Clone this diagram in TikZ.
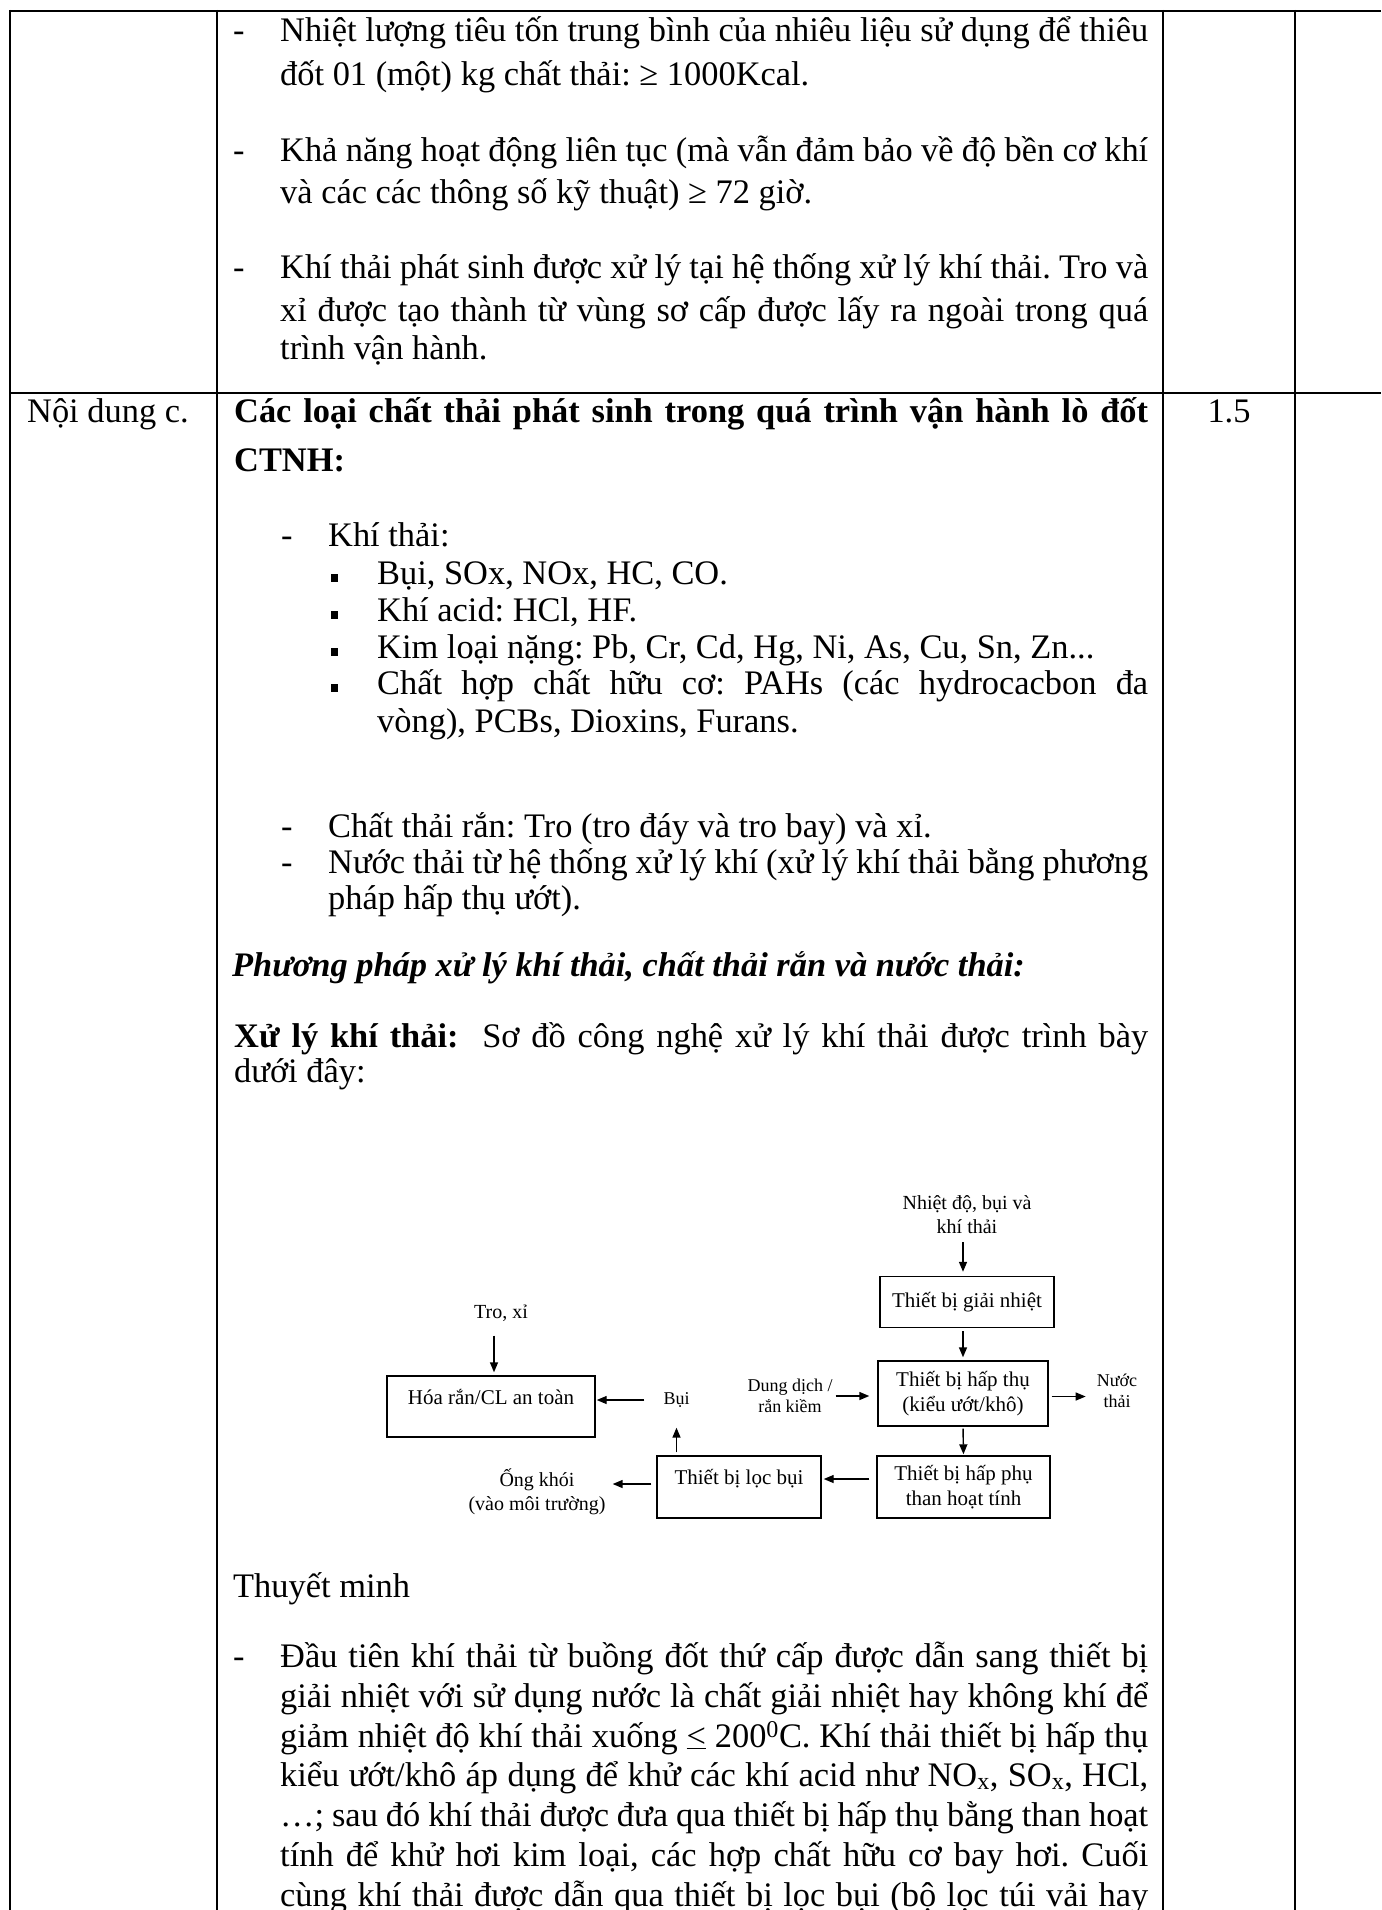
\documentclass[tikz,border=0pt]{standalone}
\usepackage{fontspec}
\setmainfont{Liberation Serif}
\usetikzlibrary{arrows.meta}
\newcommand\jl[2]{\makebox[#1][s]{#2}}
\tikzset{
  tline/.style={line width=2.3pt},
  txt/.style={anchor=base west, inner sep=0pt, font=\fontsize{34.4}{40}\selectfont},
  box/.style={draw, line width=1.4pt, inner sep=0pt, align=center, font=\fontsize{21}{25}\selectfont},
  lbl/.style={inner sep=0pt, align=center, font=\fontsize{20}{24}\selectfont},
  slbl/.style={inner sep=0pt, align=center, font=\fontsize{18}{21}\selectfont},
  arr/.style={-{Triangle[length=10pt,width=8pt]}, line width=1.4pt},
  sq/.style={fill=black, draw=none, inner sep=0pt, minimum width=7pt, minimum height=8pt},
}
\begin{document}
\frenchspacing
\begin{tikzpicture}[x=1pt,y=-1pt]
\useasboundingbox (0,0) rectangle (1381,1910);
% table grid
\draw[tline] (10,11) -- (1381,11);
\draw[tline] (10,393) -- (1381,393);
\draw[tline] (10,10) -- (10,1912);
\draw[tline] (217,10) -- (217,1912);
\draw[tline] (1163,10) -- (1163,1912);
\draw[tline] (1295,10) -- (1295,1912);

% row 1
\node[txt] (a1) at (233,42) {-};
\node[txt] (a1t) at (280,42) {\jl{868pt}{Nhiệt lượng tiêu tốn trung bình của nhiêu liệu sử dụng để thiêu}};
\node[txt] (a2t) at (280,86) {đốt 01 (một) kg chất thải: ≥ 1000Kcal.};
\node[txt] (b1) at (233,162) {-};
\node[txt] (b1t) at (280,162) {\jl{868pt}{Khả năng hoạt động liên tục (mà vẫn đảm bảo về độ bền cơ khí}};
\node[txt] (b2t) at (280,204) {và các các thông số kỹ thuật) ≥ 72 giờ.};
\node[txt] (c1) at (233,279) {-};
\node[txt] (c1t) at (280,279) {\jl{868pt}{Khí thải phát sinh được xử lý tại hệ thống xử lý khí thải. Tro và}};
\node[txt] (c2t) at (280,321) {\jl{868pt}{xỉ được tạo thành từ vùng sơ cấp được lấy ra ngoài trong quá}};
\node[txt] (c3t) at (280,359) {trình vận hành.};

% row 2
\node[txt] (nd) at (27,422) {Nội dung c.};
\node[txt, anchor=base] (diem) at (1229,422) {1.5};
\node[txt] (h1) at (234,422) {\bfseries\jl{914pt}{Các loại chất thải phát sinh trong quá trình vận hành lò đốt}};
\node[txt] (h2) at (234,471) {\bfseries CTNH:};

\node[txt] (k0) at (281,546) {-};
\node[txt] (k0t) at (328,546) {Khí thải:};
\node[sq] (s1) at (334,578) {};
\node[txt] (s1t) at (377,584) {Bụi, SOx, NOx, HC, CO.};
\node[sq] (s2) at (334,615) {};
\node[txt] (s2t) at (377,621) {Khí acid: HCl, HF.};
\node[sq] (s3) at (334,652) {};
\node[txt] (s3t) at (377,658) {Kim loại nặng: Pb, Cr, Cd, Hg, Ni, As, Cu, Sn, Zn...};
\node[sq] (s4) at (334,688) {};
\node[txt] (s4t) at (377,694) {\jl{771pt}{Chất hợp chất hữu cơ: PAHs (các hydrocacbon đa}};
\node[txt] (s5t) at (377,732) {vòng), PCBs, Dioxins, Furans.};

\node[txt] (m1) at (281,837) {-};
\node[txt] (m1t) at (328,837) {Chất thải rắn: Tro (tro đáy và tro bay) và xỉ.};
\node[txt] (m2) at (281,873) {-};
\node[txt] (m2t) at (328,873) {\jl{820pt}{Nước thải từ hệ thống xử lý khí (xử lý khí thải bằng phương}};
\node[txt] (m3t) at (328,909) {pháp hấp thụ ướt).};

\node[txt] (pp) at (232,976) {\bfseries\itshape Phương pháp xử lý khí thải, chất thải rắn và nước thải:};
\node[txt] (xl1) at (234,1047) {\jl{914pt}{\textbf{Xử lý khí thải:}\ \ Sơ đồ công nghệ xử lý khí thải được trình bày}};
\node[txt] (xl2) at (234,1082) {dưới đây:};

% diagram
\node[lbl] (in1) at (967,1215) {Nhiệt độ, bụi và\\khí thải};
\node[box, minimum width=174pt, minimum height=51pt] (gn) at (967,1302) {Thiết bị giải nhiệt};
\node[box, minimum width=170pt, minimum height=65pt] (ht) at (963,1393.5) {Thiết bị hấp thụ\\(kiểu ướt/khô)};
\node[box, minimum width=173pt, minimum height=62pt] (hp) at (963.5,1487) {Thiết bị hấp phụ\\than hoạt tính};
\node[box, minimum width=164pt, minimum height=62pt, text height=28pt, text depth=34pt] (lb) at (739,1487) {Thiết bị lọc bụi};
\node[box, minimum width=208pt, minimum height=61pt, text height=28pt, text depth=33pt] (hr) at (491,1406.5) {Hóa rắn/CL an toàn};
\node[lbl] (tro) at (501,1313) {Tro, xỉ};
\node[slbl] (dd) at (790,1396) {Dung dịch /\\rắn kiềm};
\node[slbl] (nt) at (1117,1391) {Nước\\thải};
\node[slbl] (bui) at (676.5,1400) {Bụi};
\node[lbl] (ok) at (537,1492) {Ống khói\\(vào môi trường)};

\draw[arr, shorten <=8pt, shorten >=4pt] (ht |- in1.south) -- (ht |- gn.north);
\draw[arr, shorten <=3pt, shorten >=3pt] (ht |- gn.south) -- (ht.north);
\draw[arr, shorten <=3pt, shorten >=8pt] (dd.east) -- (dd.east -| ht.west);
\draw[arr, shorten <=3pt, shorten >=11pt] ([yshift=-3pt]ht.east) -- ([yshift=-3pt]ht.east -| nt.west);
\draw[arr, shorten <=2pt, shorten >=1pt] (ht.south) -- (hp.north);
\draw[arr, shorten <=7pt, shorten >=2pt] ([yshift=8pt]hp.west) -- ([yshift=8pt]hp.west -| lb.east);
\draw[arr, shorten <=5pt, shorten >=7pt] ([yshift=3pt]lb.west) -- ([yshift=3pt]lb.west -| ok.east);
\draw[arr, shorten <=3pt, shorten >=20pt] (lb.north -| bui) -- (bui.south);
\draw[arr, shorten <=19pt, shorten >=1pt] (bui.west) -- (bui.west -| hr.east);
\draw[arr, shorten <=14pt, shorten >=3pt] ([xshift=-7pt]tro.south) -- ([xshift=-7pt]tro.south |- hr.north);

% explanation
\node[txt] (tm) at (233,1597) {Thuyết minh};
\node[txt] (d0) at (233,1667) {-};
\node[txt] (d1) at (280,1667) {\jl{868pt}{Đầu tiên khí thải từ buồng đốt thứ cấp được dẫn sang thiết bị}};
\node[txt] (d2) at (280,1707) {\jl{868pt}{giải nhiệt với sử dụng nước là chất giải nhiệt hay không khí để}};
\node[txt] (d3) at (280,1747) {\jl{868pt}{giảm nhiệt độ khí thải xuống \underline{<} 200\textsuperscript{0}C. Khí thải thiết bị hấp thụ}};
\node[txt] (d4) at (280,1786) {\jl{868pt}{kiểu ướt/khô áp dụng để khử các khí acid như NO\textsubscript{x}, SO\textsubscript{x}, HCl,}};
\node[txt] (d5) at (280,1826) {\jl{868pt}{…; sau đó khí thải được đưa qua thiết bị hấp thụ bằng than hoạt}};
\node[txt] (d6) at (280,1866) {\jl{868pt}{tính để khử hơi kim loại, các hợp chất hữu cơ bay hơi. Cuối}};
\node[txt] (d7) at (280,1906) {\jl{868pt}{cùng khí thải được dẫn qua thiết bị lọc bụi (bộ lọc túi vải hay}};
\end{tikzpicture}
\end{document}
